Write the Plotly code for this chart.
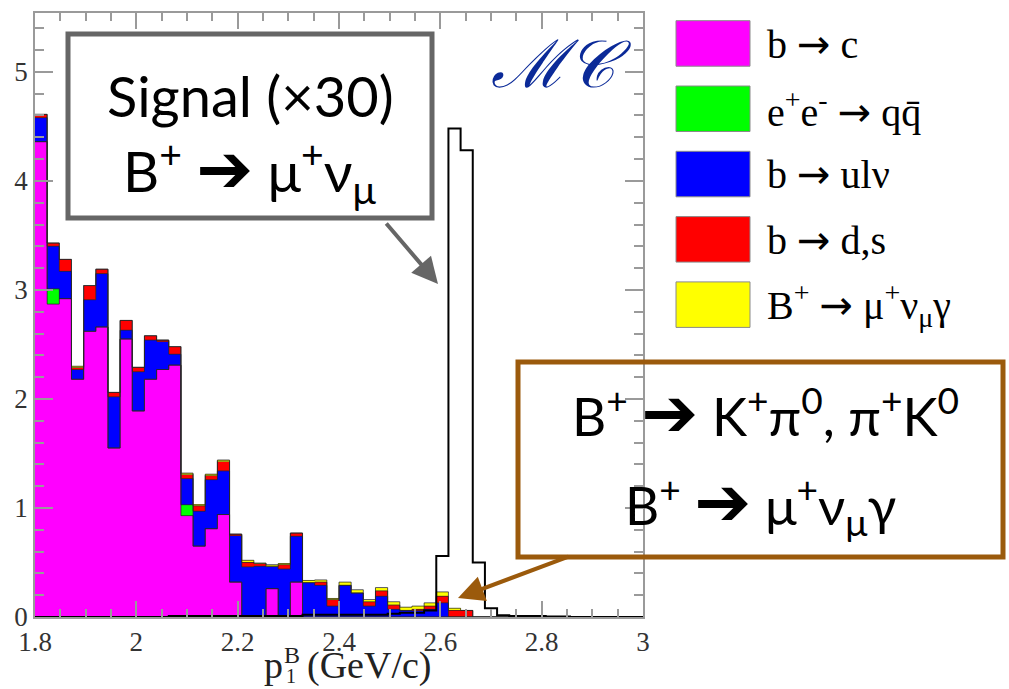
import numpy as np
import plotly.graph_objects as go

# ---- binning: 50 bins of 0.024 GeV/c from 1.8 to 3.0 ----
P_MIN = 1.8
BIN_W = 0.024
N_BINS = 50

# ---- stacked background components (events per bin) ----
b_to_c = [4.36, 2.87, 2.92, 2.18, 2.62, 2.66, 1.55, 2.55, 1.89, 2.18,
          2.27, 2.31, 0.93, 0.65, 0.81, 0.94, 0.32, 0.00, 0.00, 0.26,
          0.00, 0.32, 0.00, 0.00, 0.00, 0.00, 0.00, 0.00, 0.00, 0.00,
          0.00, 0.00, 0.00, 0.00, 0.00, 0.00, 0.00, 0.00, 0.00, 0.00,
          0.00, 0.00, 0.00, 0.00, 0.00, 0.00, 0.00, 0.00, 0.00, 0.00]
qqbar = [0.00, 0.14, 0.00, 0.00, 0.00, 0.00, 0.00, 0.00, 0.00, 0.00,
         0.00, 0.00, 0.10, 0.00, 0.00, 0.00, 0.00, 0.00, 0.00, 0.00,
         0.00, 0.00, 0.00, 0.00, 0.00, 0.00, 0.00, 0.00, 0.00, 0.00,
         0.00, 0.00, 0.00, 0.00, 0.00, 0.00, 0.00, 0.00, 0.00, 0.00,
         0.00, 0.00, 0.00, 0.00, 0.00, 0.00, 0.00, 0.00, 0.00, 0.00]
b_to_ulnu = [0.22, 0.39, 0.25, 0.09, 0.29, 0.49, 0.47, 0.08, 0.36, 0.36,
             0.26, 0.10, 0.24, 0.32, 0.45, 0.40, 0.43, 0.46, 0.465, 0.205,
             0.44, 0.42, 0.315, 0.29, 0.10, 0.29, 0.22, 0.10, 0.19, 0.07,
             0.06, 0.06, 0.07, 0.13, 0.00, 0.00, 0.00, 0.00, 0.00, 0.00,
             0.00, 0.00, 0.00, 0.00, 0.00, 0.00, 0.00, 0.00, 0.00, 0.00]
b_to_ds = [0.03, 0.03, 0.11, 0.02, 0.13, 0.04, 0.04, 0.09, 0.04, 0.04,
           0.01, 0.07, 0.04, 0.05, 0.04, 0.09, 0.01, 0.04, 0.025, 0.00,
           0.04, 0.03, 0.00, 0.03, 0.06, 0.00, 0.00, 0.04, 0.05, 0.04,
           0.00, 0.01, 0.03, 0.06, 0.06, 0.06, 0.00, 0.00, 0.00, 0.00,
           0.00, 0.00, 0.00, 0.00, 0.00, 0.00, 0.00, 0.00, 0.00, 0.00]
mu_nu_gamma = [0.00, 0.00, 0.00, 0.01, 0.00, 0.00, 0.00, 0.00, 0.00, 0.00,
               0.00, 0.00, 0.01, 0.01, 0.01, 0.01, 0.00, 0.02, 0.005, 0.015,
               0.01, 0.00, 0.02, 0.02, 0.01, 0.03, 0.03, 0.02, 0.03, 0.03,
               0.03, 0.03, 0.03, 0.04, 0.02, 0.00, 0.00, 0.00, 0.00, 0.00,
               0.00, 0.00, 0.00, 0.00, 0.00, 0.00, 0.00, 0.00, 0.00, 0.00]

# ---- signal B+ -> mu+ nu_mu, scaled by 30 ----
signal_x30 = [0.00, 0.00, 0.00, 0.00, 0.00, 0.00, 0.00, 0.00, 0.00, 0.00,
              0.00, 0.01, 0.01, 0.01, 0.01, 0.01, 0.01, 0.01, 0.01, 0.01,
              0.01, 0.01, 0.02, 0.02, 0.02, 0.02, 0.02, 0.02, 0.02, 0.03,
              0.04, 0.04, 0.06, 0.56, 4.48, 4.28, 0.50, 0.08, 0.015, 0.01,
              0.01, 0.01, 0.005, 0.005, 0.00, 0.00, 0.00, 0.00, 0.00, 0.00]

ARROW = "<span style=\"font-family:'DejaVu Sans'\">\u2192</span>"
component_labels = ["b " + ARROW + " c",
                    "e<sup>+</sup>e<sup>-</sup> " + ARROW + " qq\u0304",
                    "b " + ARROW + " ul\u03bd",
                    "b " + ARROW + " d,s",
                    "B<sup>+</sup> " + ARROW + " \u03bc<sup>+</sup>\u03bd<sub>\u03bc</sub>\u03b3"]
component_colors = ["#ff00ff", "#00ff00", "#0000ff", "#ff0000", "#ffff00"]
components = [b_to_c, qqbar, b_to_ulnu, b_to_ds, mu_nu_gamma]

x_tick_vals = [1.8, 2.0, 2.2, 2.4, 2.6, 2.8, 3.0]
x_tick_text = ["1.8", "2", "2.2", "2.4", "2.6", "2.8", "3"]
y_tick_vals = [0, 1, 2, 3, 4, 5]
y_tick_text = ["0", "1", "2", "3", "4", "5"]

edges = P_MIN + BIN_W * np.arange(N_BINS + 1)
centers = edges[:-1] + BIN_W / 2

# ---- page geometry (pixels) ----
W, H = 1009, 689
L, R, T, B = 35, 366, 13, 72
PW, PH = W - L - R, H - T - B


def px(x):
    return (x - L) / PW


def py(y):
    return (H - B - y) / PH


SERIF = "Liberation Serif, Times New Roman, serif"
SANS = "Lato, Open Sans, DejaVu Sans, sans-serif"
AX_GREY = "#9a9a9a"
BIG_ARROW = "<span style=\"font-family:'DejaVu Sans';font-size:68px\">\u2794</span>"

fig = go.Figure()

# stacked filled histograms
for lab, vals, col in zip(component_labels, components, component_colors):
    fig.add_trace(go.Bar(x=centers, y=vals, width=BIN_W, name=lab,
                         marker=dict(color=col, line=dict(width=0)),
                         showlegend=False, hoverinfo="skip"))

# step outlines of every cumulative layer
cum = np.zeros(N_BINS)
for vals in components:
    cum = cum + np.array(vals)
    fig.add_trace(go.Scatter(x=edges, y=np.append(cum, cum[-1]), mode="lines",
                             line=dict(color="rgba(40,40,40,0.75)", width=1, shape="hv"),
                             showlegend=False, hoverinfo="skip"))

# signal histogram outline
fig.add_trace(go.Scatter(x=edges, y=signal_x30 + [signal_x30[-1]], mode="lines",
                         line=dict(color="black", width=2, shape="hv"),
                         showlegend=False, hoverinfo="skip"))

axis_common = dict(showgrid=False, zeroline=False, showline=True, linecolor=AX_GREY,
                   linewidth=1.5, mirror="ticks", ticks="inside", tickcolor=AX_GREY,
                   tickwidth=1.5, tickfont=dict(family=SERIF, size=27, color="#333333"))

fig.update_xaxes(range=[1.8, 3.0], tickvals=x_tick_vals, ticktext=x_tick_text,
                 ticklen=16, minor=dict(dtick=0.05, tick0=1.8, ticklen=8, ticks="inside",
                                        tickcolor=AX_GREY, tickwidth=1.5),
                 **axis_common)
fig.update_yaxes(range=[0, 5.54], tickvals=y_tick_vals, ticktext=y_tick_text,
                 ticklen=18, minor=dict(dtick=0.2, tick0=0, ticklen=9, ticks="inside",
                                        tickcolor=AX_GREY, tickwidth=1.5),
                 **axis_common)

shapes = []
annotations = []

# legend swatches and labels
for i, (lab, col) in enumerate(zip(component_labels, component_colors)):
    top = 20.7 + 65.3 * i
    shapes.append(dict(type="rect", xref="paper", yref="paper",
                       x0=px(676), x1=px(750), y0=py(top + 45.5), y1=py(top),
                       fillcolor=col, line=dict(color="#8a8a8a", width=1)))
    annotations.append(dict(xref="paper", yref="paper", x=px(765), y=py(top + 23),
                            xanchor="left", yanchor="middle", showarrow=False,
                            text=lab, font=dict(family=SERIF, size=40, color="black")))

# MC tag
annotations.append(dict(xref="paper", yref="paper", x=px(561), y=py(64),
                        xanchor="center", yanchor="middle", showarrow=False,
                        text="<i>\u2133\U0001D49E</i>",
                        font=dict(family="DejaVu Serif, serif", size=66, color="#0b2a98")))

# signal callout
shapes.append(dict(type="rect", xref="paper", yref="paper",
                   x0=px(68), x1=px(432), y0=py(218), y1=py(34),
                   line=dict(color="#666666", width=5), fillcolor="rgba(0,0,0,0)"))
annotations.append(dict(xref="paper", yref="paper", x=px(250), y=py(95),
                        xanchor="center", yanchor="middle", showarrow=False,
                        text="Signal (\u00d730)",
                        font=dict(family=SANS, size=56, color="black")))
annotations.append(dict(xref="paper", yref="paper", x=px(250), y=py(170),
                        xanchor="center", yanchor="middle", showarrow=False,
                        text="B<sup>+</sup> " + BIG_ARROW + " \u03bc<sup>+</sup>\u03bd<sub>\u03bc</sub>",
                        font=dict(family=SANS, size=56, color="black")))
annotations.append(dict(xref="paper", yref="paper", x=px(438), y=py(284),
                        ax=385 - 438, ay=222 - 284, text="", showarrow=True,
                        arrowhead=2, arrowsize=1.3, arrowwidth=4, arrowcolor="#666666",
                        standoff=0, startstandoff=0))

# peaking-background callout
BROWN = "#9b5a0c"
shapes.append(dict(type="rect", xref="paper", yref="paper",
                   x0=px(518), x1=px(1003), y0=py(557), y1=py(362),
                   line=dict(color=BROWN, width=5), fillcolor="rgba(0,0,0,0)"))
annotations.append(dict(xref="paper", yref="paper", x=px(765), y=py(412),
                        xanchor="center", yanchor="middle", showarrow=False,
                        text="B<sup>+</sup> " + BIG_ARROW + " K<sup>+</sup>\u03c0<sup>0</sup>, \u03c0<sup>+</sup>K<sup>0</sup>",
                        font=dict(family=SANS, size=53, color="black")))
annotations.append(dict(xref="paper", yref="paper", x=px(760), y=py(503),
                        xanchor="center", yanchor="middle", showarrow=False,
                        text="B<sup>+</sup> " + BIG_ARROW + " \u03bc<sup>+</sup>\u03bd<sub>\u03bc</sub>\u03b3",
                        font=dict(family=SANS, size=53, color="black")))
annotations.append(dict(xref="paper", yref="paper", x=px(458), y=py(598),
                        ax=570 - 458, ay=556 - 598, text="", showarrow=True,
                        arrowhead=2, arrowsize=1.3, arrowwidth=4, arrowcolor=BROWN,
                        standoff=0, startstandoff=0))

# x-axis title p_1^B (GeV/c)
annotations += [
    dict(xref="paper", yref="paper", x=px(273), y=py(665), xanchor="center",
         yanchor="middle", showarrow=False, text="p",
         font=dict(family=SERIF, size=38, color="#222222")),
    dict(xref="paper", yref="paper", x=px(292), y=py(655), xanchor="center",
         yanchor="middle", showarrow=False, text="B",
         font=dict(family=SERIF, size=24, color="#222222")),
    dict(xref="paper", yref="paper", x=px(291), y=py(676), xanchor="center",
         yanchor="middle", showarrow=False, text="1",
         font=dict(family=SERIF, size=20, color="#222222")),
    dict(xref="paper", yref="paper", x=px(305), y=py(665), xanchor="left",
         yanchor="middle", showarrow=False, text="(GeV/c)",
         font=dict(family=SERIF, size=38, color="#222222")),
]

fig.update_layout(width=W, height=H, autosize=False,
                  margin=dict(l=L, r=R, t=T, b=B, pad=0),
                  barmode="stack", bargap=0,
                  plot_bgcolor="white", paper_bgcolor="white",
                  showlegend=False, shapes=shapes, annotations=annotations)

fig.write_html("out.html")
